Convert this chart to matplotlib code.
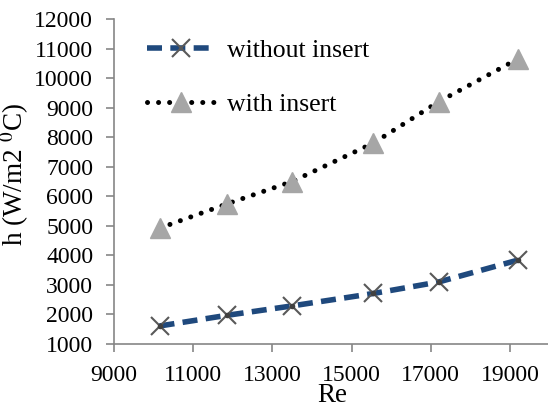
import matplotlib
matplotlib.use("Agg")
import matplotlib.pyplot as plt

re_vals = [10150, 11850, 13500, 15550, 17200, 19200]
h_without = [1610, 1970, 2290, 2710, 3100, 3840]
h_with = [4920, 5740, 6500, 7800, 9200, 10650]

plt.rcParams['font.family'] = ['Liberation Serif', 'DejaVu Serif']
plt.rcParams['mathtext.fontset'] = 'stix'

fig = plt.figure(figsize=(5.48, 4.13), dpi=100)
ax = fig.add_axes([114/548, 1 - 344/413, 435.6/548, (344 - 19)/413])

ax.plot(re_vals, h_without, color='#1F497D', lw=4, ls=(0, (2.7, 1.5)),
        marker='x', ms=13, mec='#595959', mew=1.5, label='without insert', zorder=3)
ax.plot(re_vals, h_without, ls='none', marker='o', ms=3, color='#404040', zorder=4)
ax.plot(re_vals, h_with, color='black', lw=3.6, ls=(0, (0.01, 2.2)),
        dash_capstyle='round', marker='^', ms=14, mfc='#A6A6A6', mec='#A6A6A6',
        label='with insert', zorder=3)

ax.set_xlim(9000, 20000)
ax.set_ylim(1000, 12000)
ax.set_xticks(range(9000, 20000, 2000))
ax.set_yticks(range(1000, 12001, 1000))

for s in ['top', 'right']:
    ax.spines[s].set_visible(False)
for s in ['left', 'bottom']:
    ax.spines[s].set_color('#868686')
    ax.spines[s].set_linewidth(1.2)
ax.tick_params(axis='both', direction='out', length=6, width=1.2,
               color='#868686', labelsize=17)
ax.tick_params(axis='y', pad=9)
ax.tick_params(axis='x', pad=9)

ax.set_xlabel('Re', fontsize=19.5, labelpad=-2)
ax.set_ylabel(r'h (W/m2 $^{0}$C)', fontsize=19.5)
ax.yaxis.set_label_coords(-0.19, 0.52)

ax.legend(loc='upper left', bbox_to_anchor=(0.023, 1.01), frameon=False,
          fontsize=18.5, handlelength=2.6, labelspacing=1.2, handletextpad=0.5)

fig.savefig('out.png', dpi=100)
